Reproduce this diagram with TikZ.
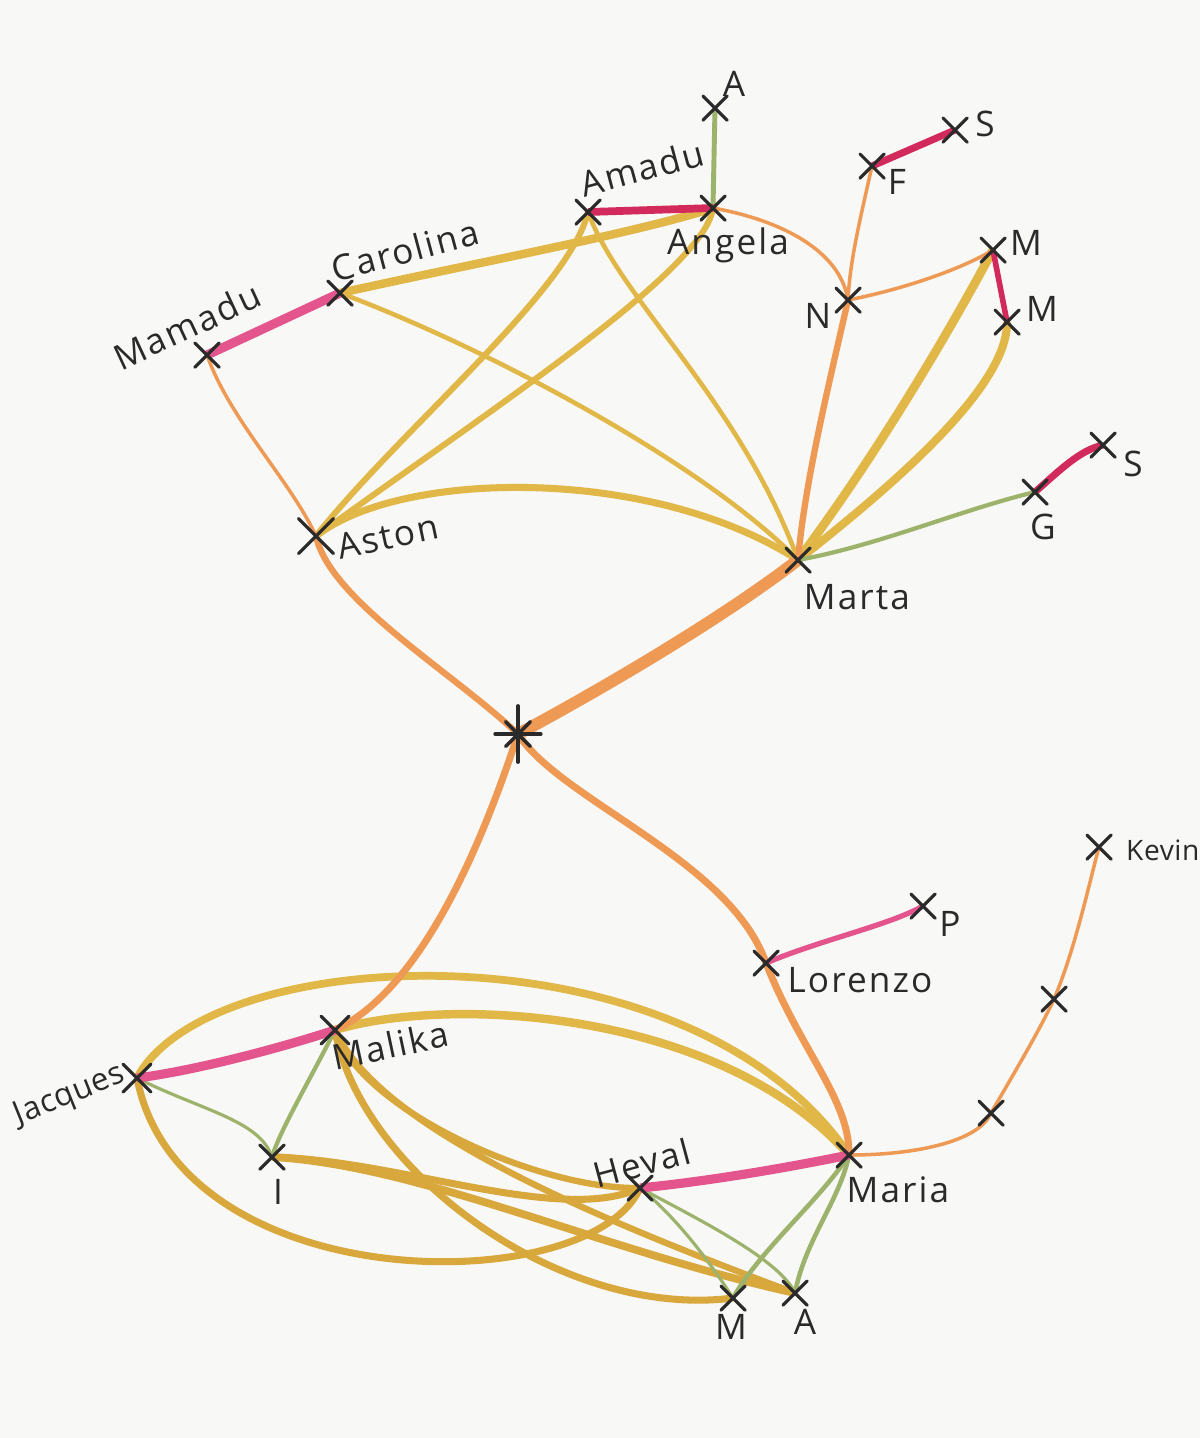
\documentclass[tikz,border=0pt]{standalone}
\usepackage{fontspec}
\setmainfont{Open Sans}[LetterSpace=6]
\usepackage{xcolor}
\usepackage{tikz}
\usetikzlibrary{shapes.misc,backgrounds,positioning}

\definecolor{paper}{HTML}{F8F8F6}
\definecolor{rose}{HTML}{E4558E}
\definecolor{crimson}{HTML}{D22A5C}
\definecolor{ochre}{HTML}{E1B748}
\definecolor{gold}{HTML}{D9A83C}
\definecolor{tangerine}{HTML}{EE9A55}
\definecolor{sage}{HTML}{9DB26A}
\definecolor{ink}{HTML}{2A2A2A}

\begin{document}
\begin{tikzpicture}[x=0.01cm, y=-0.01cm, line cap=round,
  every node/.style={text=ink, font=\normalsize},
  xmark/.style={cross out, draw=ink, line width=0.9pt, minimum size=6pt, inner sep=0pt},
  lbl/.style={inner sep=1pt},
  friend/.style={draw=ochre, line width=#1}, friend/.default=1.8pt,
  friendlow/.style={draw=gold, line width=#1}, friendlow/.default=1.8pt,
  kin/.style={draw=tangerine, line width=#1}, kin/.default=1pt,
  mate/.style={draw=sage, line width=#1}, mate/.default=0.9pt,
  partner/.style={draw=rose, line width=#1}, partner/.default=2.6pt,
  couple/.style={draw=crimson, line width=#1}, couple/.default=2.2pt]

  \useasboundingbox (0,0) rectangle (1200,1438);
  \clip (0,0) rectangle (1200,1438);
  \begin{pgfonlayer}{background}
    \fill[paper] (0,0) rectangle (1200,1438);
  \end{pgfonlayer}

  \node[xmark] (atop) at (715,108) {};
  \node[xmark] (angela) at (713,208) {};
  \node[xmark] (amadu) at (588,212) {};
  \node[xmark] (carolina) at (340,293) {};
  \node[xmark] (mamadu) at (207,355) {};
  \node[xmark] (f) at (872,166) {};
  \node[xmark] (stop) at (955,130) {};
  \node[xmark] (n) at (848,300) {};
  \node[xmark] (mtop) at (993,250) {};
  \node[xmark] (mmid) at (1007,322) {};
  \node[xmark, minimum size=9pt] (aston) at (316,536) {};
  \node[xmark] (marta) at (798,560) {};
  \node[xmark] (g) at (1035,492) {};
  \node[xmark] (sright) at (1103,445) {};
  \node[inner sep=0pt, minimum size=0pt] (hub) at (518,734) {};
  \node[xmark, minimum size=7pt] (jacques) at (137,1078) {};
  \node[xmark, minimum size=7pt] (malika) at (335,1030) {};
  \node[xmark] (i) at (272,1157) {};
  \node[xmark] (heval) at (640,1188) {};
  \node[xmark] (maria) at (849,1155) {};
  \node[xmark] (mbot) at (733,1298) {};
  \node[xmark] (abot) at (795,1293) {};
  \node[xmark] (lorenzo) at (766,963) {};
  \node[xmark] (p) at (923,906) {};
  \node[xmark] (k1) at (991,1113) {};
  \node[xmark] (k2) at (1054,999) {};
  \node[xmark] (kevin) at (1099,847) {};

  \foreach \a/\r in {0/6.5pt,45/5pt,90/8pt,135/5pt,180/6.5pt,225/5pt,270/8pt,315/5pt}
    \draw[ink, line width=1pt] (hub.center) -- ++(\a:\r);

  \node[lbl] (atop-l) at (734,84) {A};
  \node[lbl, rotate=15] (amadu-l) at (642,168) {Amadu};
  \node[lbl] (angela-l) at (728,245) {Angela};
  \node[lbl, rotate=15] (carolina-l) at (405,250) {Carolina};
  \node[lbl, rotate=25] (mamadu-l) at (187,326) {Mamadu};
  \node[lbl] (stop-l) at (985,124) {S};
  \node[lbl] (f-l) at (897,182) {F};
  \node[lbl] (n-l) at (818,316) {N};
  \node[lbl] (mtop-l) at (1026,243) {M};
  \node[lbl] (mmid-l) at (1042,309) {M};
  \node[lbl, rotate=12] (aston-l) at (388,537) {Aston};
  \node[lbl] (marta-l) at (857,597) {Marta};
  \node[lbl] (g-l) at (1043,527) {G};
  \node[lbl] (sright-l) at (1133,464) {S};
  \node[lbl] (lorenzo-l) at (860,980) {Lorenzo};
  \node[lbl] (p-l) at (950,924) {P};
  \node[lbl, anchor=west, font=\footnotesize\addfontfeatures{LetterSpace=2}] (kevin-l) at (1122,850) {Kevin};
  \node[lbl, rotate=22, font=\small\addfontfeatures{LetterSpace=2}] (jacques-l) at (70,1096) {Jacques};
  \node[lbl, rotate=12] (malika-l) at (390,1045) {Malika};
  \node[lbl] (i-l) at (278,1192) {I};
  \node[lbl, rotate=15] (heval-l) at (642,1163) {Heval};
  \node[lbl] (maria-l) at (898,1190) {Maria};
  \node[lbl] (mbot-l) at (731,1327) {M};
  \node[lbl] (abot-l) at (805,1322) {A};

  \begin{pgfonlayer}{background}
    \draw[friend=2.4pt] (carolina.center) .. controls (480,262) and (640,232) .. (angela.center);
    \draw[friend=1.3pt] (carolina.center) .. controls (480,345) and (700,460) .. (marta.center);
    \draw[friend=1.7pt] (amadu.center) .. controls (570,290) and (400,430) .. (aston.center);
    \draw[friend=1.7pt] (angela.center) .. controls (705,270) and (490,410) .. (aston.center);
    \draw[friend=1.3pt] (amadu.center) .. controls (620,300) and (740,400) .. (marta.center);
    \draw[friend=2pt] (aston.center) .. controls (400,470) and (650,465) .. (marta.center);
    \draw[friend=2.5pt] (mtop.center) .. controls (950,330) and (880,450) .. (marta.center);
    \draw[friend=2.3pt] (mmid.center) .. controls (1008,385) and (900,480) .. (marta.center);

    \draw[friend=2.2pt] (jacques.center) .. controls (210,940) and (690,920) .. (maria.center);
    \draw[friend=2.4pt] (malika.center) .. controls (450,995) and (720,1010) .. (maria.center);
    \draw[friendlow=2pt] (jacques.center) .. controls (180,1300) and (590,1300) .. (heval.center);
    \draw[friendlow=1.8pt] (malika.center) .. controls (360,1110) and (540,1190) .. (heval.center);
    \draw[friendlow=2pt] (malika.center) .. controls (360,1170) and (560,1320) .. (mbot.center);
    \draw[friendlow=1.8pt] (malika.center) .. controls (380,1130) and (600,1220) .. (abot.center);
    \draw[friendlow=2pt] (i.center) .. controls (400,1160) and (560,1225) .. (heval.center);
    \draw[friendlow=2.2pt] (i.center) .. controls (420,1165) and (600,1250) .. (abot.center);

    \draw[mate=1.4pt] (atop.center) -- (angela.center);
    \draw[mate=1.2pt] (g.center) .. controls (960,510) and (880,545) .. (marta.center);
    \draw[mate] (jacques.center) .. controls (200,1110) and (260,1120) .. (i.center);
    \draw[mate=1.2pt] (malika.center) .. controls (310,1080) and (280,1130) .. (i.center);
    \draw[mate] (heval.center) .. controls (680,1220) and (715,1270) .. (mbot.center);
    \draw[mate] (heval.center) .. controls (700,1220) and (780,1260) .. (abot.center);
    \draw[mate=1.3pt] (maria.center) .. controls (820,1200) and (760,1250) .. (mbot.center);
    \draw[mate=1.3pt] (maria.center) .. controls (840,1200) and (805,1240) .. (abot.center);

    \draw[kin] (angela.center) .. controls (780,220) and (840,250) .. (n.center);
    \draw[kin] (f.center) .. controls (860,220) and (850,260) .. (n.center);
    \draw[kin] (n.center) .. controls (900,290) and (960,270) .. (mtop.center);
    \draw[kin=1.8pt] (n.center) .. controls (830,380) and (805,480) .. (marta.center);
    \draw[kin] (mamadu.center) .. controls (230,420) and (290,480) .. (aston.center);
    \draw[kin=1.8pt] (aston.center) .. controls (330,600) and (450,670) .. (hub.center);
    \draw[kin=3.4pt] (marta.center) .. controls (720,620) and (600,690) .. (hub.center);
    \draw[kin=2pt] (hub.center) .. controls (480,850) and (420,990) .. (malika.center);
    \draw[kin=2pt] (hub.center) .. controls (560,800) and (730,860) .. (lorenzo.center);
    \draw[kin=2pt] (lorenzo.center) .. controls (800,1050) and (850,1100) .. (maria.center);
    \draw[kin] (maria.center) .. controls (920,1155) and (980,1140) .. (k1.center);
    \draw[kin] (k1.center) .. controls (1010,1080) and (1040,1030) .. (k2.center);
    \draw[kin] (k2.center) .. controls (1075,950) and (1090,880) .. (kevin.center);

    \draw[couple] (amadu.center) -- (angela.center);
    \draw[couple=2pt] (f.center) -- (stop.center);
    \draw[couple=1.6pt] (mtop.center) -- (mmid.center);
    \draw[couple=2pt] (g.center) .. controls (1060,470) and (1080,450) .. (sright.center);
    \draw[partner] (mamadu.center) -- (carolina.center);
    \draw[partner] (jacques.center) .. controls (200,1070) and (290,1045) .. (malika.center);
    \draw[partner] (heval.center) .. controls (720,1180) and (800,1165) .. (maria.center);
    \draw[partner=1.5pt] (lorenzo.center) .. controls (820,940) and (890,925) .. (p.center);
  \end{pgfonlayer}
\end{tikzpicture}
\end{document}
